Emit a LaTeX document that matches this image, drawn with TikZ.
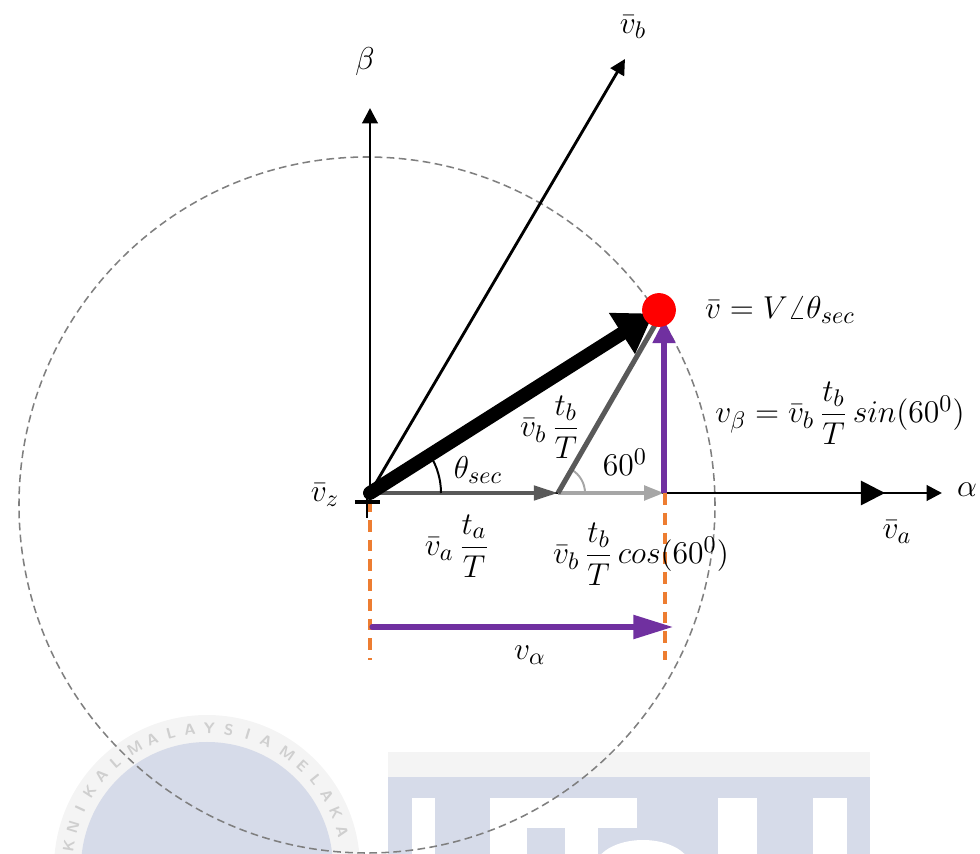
\documentclass[tikz,border=0pt]{standalone}
\usepackage{amsmath}
\usetikzlibrary{arrows.meta,calc}
\definecolor{vpurple}{HTML}{7030A0}
\definecolor{vorange}{HTML}{ED7D31}
\definecolor{dgray}{HTML}{595959}
\definecolor{lgray}{HTML}{A6A6A6}
\definecolor{cgray}{HTML}{7F7F7F}
\definecolor{wmblue}{HTML}{D6DBE9}
\definecolor{wmband}{HTML}{F4F4F4}
\definecolor{wmtext}{HTML}{CFCFCF}
\begin{document}
\begin{tikzpicture}[x=0.016cm, y=0.016cm,
        axis/.style={draw, line width=1.3pt, -{Triangle[length=7pt, width=7pt]}},
        bigtip/.style={draw, line width=1.3pt, -{Triangle[length=11pt, width=11pt]}},
        guide/.style={draw=vorange, line width=1.4pt, dash pattern=on 5.4pt off 3.6pt},
        comp/.style={draw=vpurple, line width=2.3pt},
        lbl/.style={font=\fontsize{15.5}{18}\selectfont, inner sep=0pt},
        wmletter/.style={text=wmtext, font=\sffamily\bfseries\fontsize{7}{8}\selectfont, inner sep=0pt},
    ]
    \useasboundingbox (-370,-361) rectangle (610,493);

    % watermark
    \begin{scope}
        \clip (-370,-361) rectangle (610,493);
        \coordinate (wm) at (-163,-375);
        \fill[wmband] (wm) circle[radius=153];
        \fill[wmblue] (wm) circle[radius=126];
        \foreach \ch/\ang in {K/171, N/163, I/155, K/147, A/139, L/131,
                M/121, A/113, L/105, A/97, Y/89, S/81, I/73, A/65,
                M/55, E/47, L/39, A/31, K/23, A/15}
            \node[wmletter, rotate=\ang-90] at ($(wm)+(\ang:140)$) {\ch};
        \fill[wmband] (18,-259) rectangle (500,-284);
        \fill[wmblue] (18,-284) rectangle (500,-361);
        \fill[white] (42,-305) rectangle (65,-361);
        \fill[white] (120,-305) rectangle (157,-361);
        \fill[white] (120,-305) rectangle (267,-335);
        \fill[white] (195,-335) rectangle (228,-361);
        \fill[white] (273,-375) ellipse[x radius=48, y radius=28];
        \fill[white] (348,-305) rectangle (387,-361);
        \fill[white] (443,-305) rectangle (477,-361);
    \end{scope}

    \coordinate (O) at (0,0);
    \coordinate (A) at (572,0);
    \coordinate (Va) at (515,0);
    \coordinate (Bt) at (0,385);
    \coordinate (Vb) at (255,434);
    \coordinate (B) at (188,0);
    \coordinate (Q) at (294,0);
    \coordinate (Pv) at (294,173);
    \coordinate (Pg) at (289,175);
    \coordinate (Ha) at (2,-134);
    \coordinate (Hb) at (303,-134);
    \coordinate (Ga) at (0,-7);
    \coordinate (Gb) at (0,-167);
    \coordinate (Gc) at (295,0);
    \coordinate (Gd) at (295,-167);
    \coordinate (P) at (289,183);

    % circle of the hexagon
    \draw[cgray, line width=0.7pt, dash pattern=on 3.5pt off 2pt] (-3,-12) circle[radius=348];

    % axes and base vectors
    \draw[axis] (O) -- (Bt);
    \draw[axis] (O) -- (A);
    \draw[axis] (O) -- (Vb);
    \draw[bigtip] (O) -- (Va);

    \draw[guide] (Ga) -- (Gb);
    \draw[guide] (Gc) -- (Gd);

    % components
    \draw[dgray, line width=1.8pt, -{Triangle[length=11pt, width=6.5pt]}] (O) -- (B);
    \draw[lgray, line width=1.8pt, -{Triangle[length=9pt, width=6.5pt]}] (B) -- (Q);
    \draw[lgray, line width=0.9pt] ($(B)+(27,0)$) arc[start angle=0, end angle=60, radius=27];
    \draw[dgray, line width=2.3pt] (B) -- (Pg);
    \draw[comp, -{Triangle[length=10.5pt, width=10pt]}] (Q) -- (Pv);

    % reference vector
    \draw[line width=6.3pt, line cap=round, -{Triangle[length=17pt, width=21pt]}, shorten >=3pt] (O) -- (P);
    \draw[line width=0.9pt] (71,0) arc[start angle=0, end angle=32.4, radius=71];

    \node[circle, fill=red, minimum size=15.4pt, inner sep=0pt] (dot) at (P) {};
    \fill (O) circle[radius=6];
    \draw[line width=1.8pt] (-15,-9) -- (10,-9);
    \draw[line width=1.3pt] (-3,0) -- (-3,-25);

    \draw[comp, line cap=round, -{Triangle[length=18pt, width=10.5pt]}] (Ha) -- (Hb);

    % labels
    \node[lbl] (lz) at (-45,-2) {$\bar{v}_z$};
    \node[lbl] (lta) at (87,-53) {$\bar{v}_a\,\dfrac{t_a}{T}$};
    \node[lbl] (lcos) at (271,-61) {$\bar{v}_b\,\dfrac{t_b}{T}\,cos(60^0)$};
    \node[lbl] (lalpha) at (160,-162) {$v_\alpha$};
    \node[lbl] (ltb) at (180,66) {$\bar{v}_b\,\dfrac{t_b}{T}$};
    \node[lbl] (lsixty) at (255,31) {$60^0$};
    \node[lbl] (ltheta) at (108,23) {$\theta_{sec}$};
    \node[lbl] (lv) at (410,183) {$\bar{v} = V\angle\theta_{sec}$};
    \node[lbl] (lbeta) at (470,80) {$v_\beta = \bar{v}_b\,\dfrac{t_b}{T}\,sin(60^0)$};
    \node[lbl] (ax) at (597,3) {$\alpha$};
    \node[lbl] (lva) at (527,-39) {$\bar{v}_a$};
    \node[lbl] (bx) at (-5,431) {$\beta$};
    \node[lbl] (lvb) at (263,466) {$\bar{v}_b$};
\end{tikzpicture}
\end{document}
